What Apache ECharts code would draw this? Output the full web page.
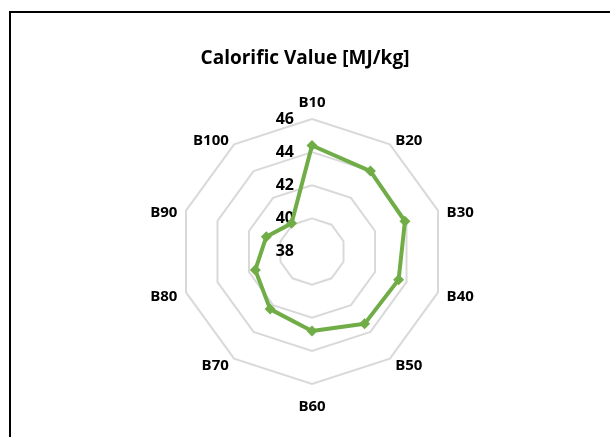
<!DOCTYPE html>
<html>
<head>
<meta charset="utf-8">
<script src="https://cdn.jsdelivr.net/npm/echarts@6/dist/echarts.min.js"></script>
<style>
  html, body { margin: 0; padding: 0; background: #ffffff; }
  #chart { width: 610px; height: 437px; }
</style>
</head>
<body>
<div id="chart"></div>
<script>
// Blend categories, in clockwise order starting at the top
const categories = ['B10', 'B20', 'B30', 'B40', 'B50', 'B60', 'B70', 'B80', 'B90', 'B100'];
// Calorific value per blend [MJ/kg]
const calorificValues = [44.4, 44.0, 43.9, 43.5, 43.4, 42.8, 42.3, 41.6, 40.9, 40.1];
// Ring scale
const scaleMin = 38;
const scaleMax = 46;
const scaleStep = 2;

const FONT = '"Open Sans", "Liberation Sans", sans-serif';
const CENTER = [312, 251.5];
const RADIUS = 132.5;

// ECharts lays radar axes out counter-clockwise; keep the first axis on top
// and reverse the rest so the blends run clockwise.
const order = [0].concat(categories.map((_, i) => i).slice(1).reverse());
const indicators = order.map(i => ({ name: categories[i], min: scaleMin, max: scaleMax }));
const values = order.map(i => calorificValues[i]);

// small vertical nudges for axis names, by position around the web
const nameBase = { fontFamily: FONT, fontSize: 15, fontWeight: 'bold', color: '#000000' };
const nameStyles = {
  n0: Object.assign({}, nameBase),
  n1: Object.assign({ padding: [8, 0, 0, 0] }, nameBase),
  n2: Object.assign({ padding: [10, 0, 0, 0] }, nameBase),
  n3: Object.assign({ padding: [4, 0, 0, 0] }, nameBase),
  n4: Object.assign({}, nameBase),
  n5: Object.assign({ padding: [6, 0, 0, 0] }, nameBase)
};
function nameKey(name) {
  const i = categories.indexOf(name);
  return 'n' + Math.min(i, 10 - i);
}

const chart = echarts.init(document.getElementById('chart'), null, { renderer: 'canvas' });

chart.setOption({
  backgroundColor: '#ffffff',
  animation: false,
  title: {
    text: 'Calorific Value [MJ/kg]',
    left: 'center',
    top: 44,
    textStyle: { fontFamily: FONT, fontSize: 19, fontWeight: 'bold', color: '#000000' }
  },
  graphic: [{
    type: 'rect',
    shape: { x: 10, y: 12, width: 700, height: 600 },
    style: { fill: 'none', stroke: '#000000', lineWidth: 2 },
    silent: true,
    z: -1
  }],
  radar: {
    center: CENTER,
    radius: RADIUS,
    shape: 'polygon',
    startAngle: 90,
    splitNumber: (scaleMax - scaleMin) / scaleStep,
    indicator: indicators,
    axisName: {
      color: '#000000',
      fontFamily: FONT,
      fontSize: 15,
      fontWeight: 'bold',
      formatter: name => '{' + nameKey(name) + '|' + name + '}',
      rich: nameStyles
    },
    nameGap: 9,
    axisLine: { show: false },
    axisTick: { show: false },
    axisLabel: { show: false },
    splitLine: { lineStyle: { color: '#d9d9d9', width: 2 } },
    splitArea: { show: false }
  },
  // polar frame used only for the ring value labels along the top axis
  polar: { center: CENTER, radius: RADIUS },
  angleAxis: { show: false, startAngle: 90, min: 0, max: 360 },
  radiusAxis: {
    min: scaleMin,
    max: scaleMax,
    interval: scaleStep,
    axisLine: { show: false },
    axisTick: { show: false },
    splitLine: { show: false },
    axisLabel: {
      show: true,
      margin: 18,
      color: '#000000',
      fontFamily: FONT,
      fontSize: 16,
      fontWeight: 'bold'
    }
  },
  series: [{
    type: 'radar',
    symbol: 'diamond',
    symbolSize: 11,
    lineStyle: { color: '#70ad47', width: 4 },
    itemStyle: { color: '#70ad47' },
    z: 5,
    data: [{ value: values, name: 'Calorific Value' }]
  }]
});
</script>
</body>
</html>
